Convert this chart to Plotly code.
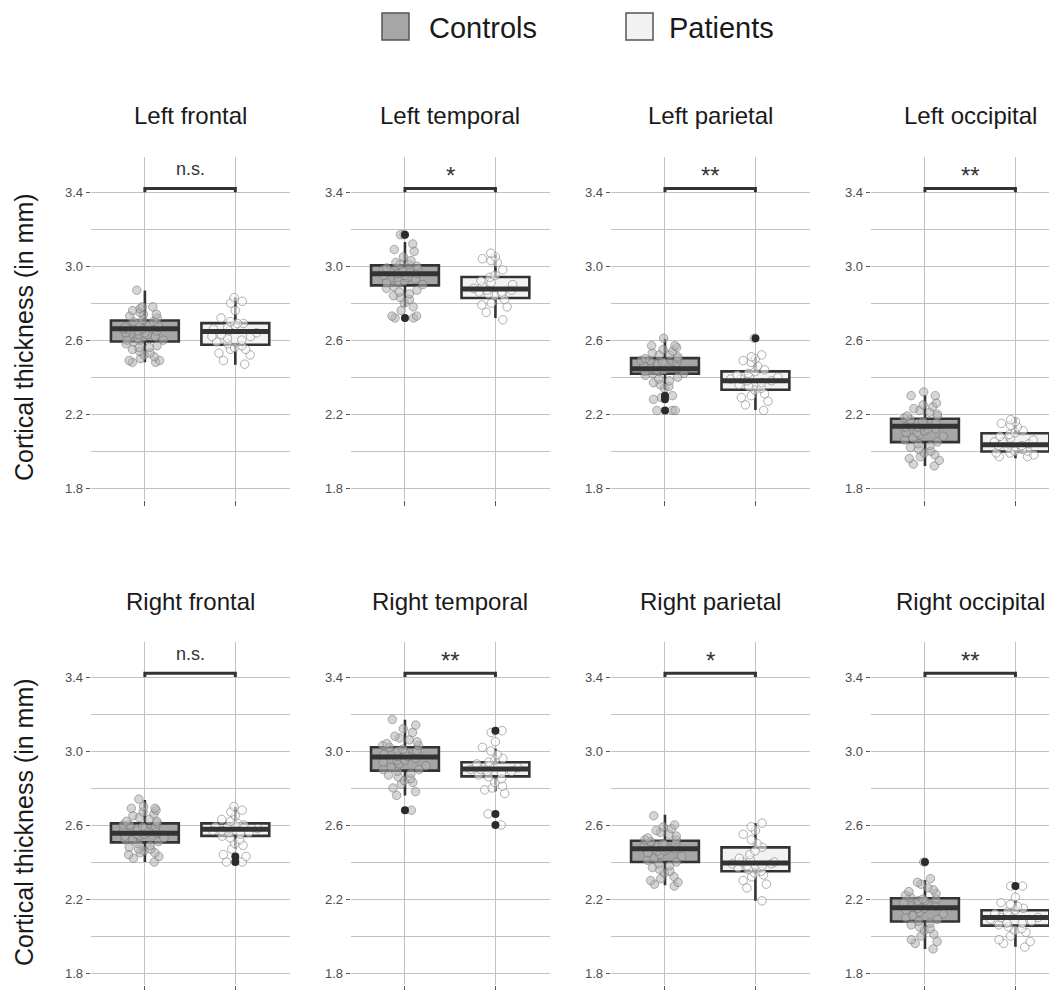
import plotly.graph_objects as go

# Screenshot size and the 8px page margin that surrounds the plot div
SCREEN_W, SCREEN_H = 1057, 990
OFF = 8
W, H = SCREEN_W - OFF, SCREEN_H - OFF

# ---------------- data ----------------
regions = ["Left frontal", "Left temporal", "Left parietal", "Left occipital",
           "Right frontal", "Right temporal", "Right parietal", "Right occipital"]
sig_labels = ["n.s.", "*", "**", "**", "n.s.", "**", "*", "**"]
groups = ["Controls", "Patients"]

controls_q1 = [2.593, 2.896, 2.418, 2.049, 2.506, 2.894, 2.400, 2.078]
controls_median = [2.661, 2.959, 2.445, 2.134, 2.555, 2.968, 2.472, 2.153]
controls_q3 = [2.706, 3.004, 2.503, 2.175, 2.609, 3.020, 2.515, 2.204]
controls_lower = [2.48, 2.78, 2.33, 1.92, 2.40, 2.76, 2.274, 1.93]
controls_upper = [2.869, 3.13, 2.607, 2.304, 2.735, 3.169, 2.656, 2.301]

patients_q1 = [2.575, 2.828, 2.332, 1.998, 2.541, 2.863, 2.350, 2.056]
patients_median = [2.647, 2.876, 2.380, 2.034, 2.577, 2.903, 2.395, 2.100]
patients_q3 = [2.692, 2.941, 2.431, 2.097, 2.609, 2.939, 2.479, 2.139]
patients_lower = [2.467, 2.72, 2.223, 1.962, 2.471, 2.782, 2.19, 1.942]
patients_upper = [2.832, 3.063, 2.512, 2.179, 2.699, 3.014, 2.61, 2.195]

controls_outliers = [[], [3.17, 2.72], [2.30, 2.28, 2.22], [], [], [2.68], [], [2.40]]
patients_outliers = [[], [], [2.61], [], [2.43, 2.40], [3.11, 2.66, 2.60], [], [2.27]]

lf_controls = [2.87, 2.78, 2.78, 2.77, 2.76, 2.75, 2.74, 2.74, 2.73, 2.72, 2.71, 2.70, 2.70,
               2.69, 2.68, 2.68, 2.67, 2.67, 2.66, 2.66, 2.66, 2.65, 2.65, 2.64, 2.64, 2.63,
               2.63, 2.62, 2.62, 2.61, 2.60, 2.60, 2.60, 2.59, 2.58, 2.57, 2.56, 2.56, 2.55,
               2.54, 2.53, 2.52, 2.51, 2.50, 2.49, 2.49, 2.48, 2.48]
lf_patients = [2.83, 2.81, 2.80, 2.76, 2.72, 2.70, 2.69, 2.69, 2.68, 2.67, 2.66, 2.65, 2.64,
               2.63, 2.62, 2.62, 2.61, 2.60, 2.59, 2.58, 2.57, 2.56, 2.55, 2.55, 2.53, 2.52,
               2.49, 2.47]
lt_controls = [3.17, 3.17, 3.12, 3.09, 3.08, 3.05, 3.03, 3.02, 3.01, 3.01, 3.00, 2.99, 2.98,
               2.98, 2.97, 2.97, 2.96, 2.96, 2.95, 2.95, 2.94, 2.94, 2.93, 2.92, 2.92, 2.91,
               2.91, 2.90, 2.89, 2.88, 2.87, 2.86, 2.85, 2.84, 2.83, 2.82, 2.80, 2.78, 2.76,
               2.73, 2.73, 2.72, 2.72]
lt_patients = [3.07, 3.05, 3.04, 3.03, 3.02, 2.98, 2.95, 2.94, 2.92, 2.91, 2.90, 2.89, 2.88,
               2.87, 2.87, 2.86, 2.86, 2.85, 2.85, 2.84, 2.82, 2.80, 2.79, 2.78, 2.75, 2.71]
lp_controls = [2.61, 2.57, 2.57, 2.56, 2.55, 2.54, 2.53, 2.52, 2.52, 2.51, 2.50, 2.50, 2.49,
               2.49, 2.48, 2.48, 2.47, 2.47, 2.46, 2.46, 2.45, 2.45, 2.44, 2.44, 2.43, 2.43,
               2.42, 2.42, 2.41, 2.40, 2.39, 2.38, 2.37, 2.36, 2.35, 2.34, 2.30, 2.29, 2.28,
               2.22, 2.22, 2.22]
lp_patients = [2.61, 2.52, 2.51, 2.50, 2.49, 2.48, 2.46, 2.44, 2.43, 2.42, 2.41, 2.40, 2.40,
               2.39, 2.39, 2.38, 2.38, 2.37, 2.36, 2.35, 2.34, 2.33, 2.31, 2.30, 2.29, 2.27,
               2.25, 2.22]
lo_controls = [2.32, 2.30, 2.30, 2.26, 2.25, 2.24, 2.23, 2.22, 2.21, 2.20, 2.19, 2.19, 2.18,
               2.17, 2.16, 2.15, 2.15, 2.14, 2.13, 2.13, 2.12, 2.12, 2.11, 2.10, 2.10, 2.09,
               2.08, 2.07, 2.06, 2.05, 2.04, 2.03, 2.02, 2.01, 2.00, 1.99, 1.98, 1.97, 1.96,
               1.95, 1.93, 1.92]
lo_patients = [2.17, 2.16, 2.15, 2.14, 2.13, 2.11, 2.10, 2.09, 2.08, 2.07, 2.06, 2.05, 2.05,
               2.04, 2.04, 2.03, 2.03, 2.02, 2.01, 2.00, 2.00, 1.99, 1.99, 1.98, 1.97, 1.97]
rf_controls = [2.74, 2.70, 2.69, 2.69, 2.68, 2.67, 2.66, 2.65, 2.64, 2.63, 2.62, 2.62, 2.61,
               2.60, 2.60, 2.59, 2.59, 2.58, 2.58, 2.57, 2.57, 2.56, 2.56, 2.55, 2.55, 2.54,
               2.54, 2.53, 2.52, 2.52, 2.51, 2.50, 2.49, 2.48, 2.47, 2.47, 2.46, 2.45, 2.45,
               2.44, 2.43, 2.42, 2.40]
rf_patients = [2.70, 2.68, 2.67, 2.65, 2.63, 2.62, 2.61, 2.60, 2.60, 2.59, 2.59, 2.58, 2.58,
               2.57, 2.57, 2.56, 2.56, 2.55, 2.54, 2.53, 2.52, 2.50, 2.49, 2.47, 2.44, 2.43,
               2.40, 2.40]
rt_controls = [3.17, 3.14, 3.12, 3.10, 3.08, 3.07, 3.06, 3.05, 3.04, 3.03, 3.03, 3.02, 3.01,
               3.00, 3.00, 2.99, 2.98, 2.97, 2.97, 2.96, 2.95, 2.95, 2.94, 2.93, 2.92, 2.91,
               2.90, 2.90, 2.89, 2.88, 2.87, 2.86, 2.85, 2.84, 2.83, 2.82, 2.80, 2.78, 2.76,
               2.68]
rt_patients = [3.11, 3.10, 3.05, 3.02, 3.00, 2.98, 2.96, 2.95, 2.94, 2.93, 2.92, 2.91, 2.90,
               2.90, 2.89, 2.89, 2.88, 2.87, 2.86, 2.85, 2.83, 2.81, 2.80, 2.79, 2.77, 2.66,
               2.60]
rp_controls = [2.65, 2.60, 2.59, 2.58, 2.57, 2.56, 2.55, 2.54, 2.53, 2.52, 2.52, 2.51, 2.50,
               2.50, 2.49, 2.49, 2.48, 2.48, 2.47, 2.47, 2.46, 2.46, 2.45, 2.44, 2.43, 2.42,
               2.41, 2.40, 2.39, 2.38, 2.37, 2.36, 2.35, 2.34, 2.32, 2.31, 2.30, 2.29, 2.28,
               2.27]
rp_patients = [2.61, 2.59, 2.57, 2.55, 2.52, 2.50, 2.48, 2.46, 2.44, 2.42, 2.41, 2.40, 2.40,
               2.39, 2.39, 2.38, 2.38, 2.37, 2.36, 2.35, 2.34, 2.33, 2.32, 2.30, 2.28, 2.26,
               2.19]
ro_controls = [2.40, 2.31, 2.29, 2.28, 2.26, 2.25, 2.24, 2.23, 2.22, 2.21, 2.20, 2.20, 2.19,
               2.19, 2.18, 2.17, 2.17, 2.16, 2.15, 2.15, 2.14, 2.13, 2.12, 2.11, 2.10, 2.09,
               2.08, 2.07, 2.06, 2.05, 2.04, 2.03, 2.01, 2.00, 1.98, 1.97, 1.96, 1.93]
ro_patients = [2.27, 2.27, 2.21, 2.18, 2.17, 2.16, 2.15, 2.14, 2.13, 2.12, 2.11, 2.10, 2.10,
               2.09, 2.08, 2.07, 2.07, 2.06, 2.05, 2.04, 2.03, 2.02, 2.00, 1.98, 1.97, 1.96,
               1.94]

controls_points = [lf_controls, lt_controls, lp_controls, lo_controls,
                   rf_controls, rt_controls, rp_controls, ro_controls]
patients_points = [lf_patients, lt_patients, lp_patients, lo_patients,
                   rf_patients, rt_patients, rp_patients, ro_patients]

y_tick_vals = [1.8, 2.2, 2.6, 3.0, 3.4]
y_tick_text = ["1.8", "2.2", "2.6", "3.0", "3.4"]
y_minor_vals = [2.0, 2.4, 2.8, 3.2]
bracket_y = 3.42
bracket_tip_y = 3.40
y_title = "Cortical thickness (in mm)"

# ---------------- style / layout ----------------
FONT = "Liberation Sans, Arial, sans-serif"
GRID = "#c2c2c2"
DARK = "#333333"
CTRL_FILL = "#a6a6a6"
PAT_FILL = "#f2f2f2"
BOX_W = 0.75
Y_RANGE = [1.735, 3.59]
PX_PER_Y = 185.0


def px_x(p):  # screen x pixel -> paper
    return (p - OFF) / W


def px_y(p):  # screen y pixel -> paper
    return 1 - (p - OFF) / H


panel_left_px = [90.6, 350.7, 610.7, 870.7]
panel_w_px = 199.0
px_per_unit = panel_w_px / 2.2
row_top_px = [157.0, 641.85]
panel_h_px = (Y_RANGE[1] - Y_RANGE[0]) * PX_PER_Y
title_y_px = [116, 601]
ytitle_y_px = [337, 822]

fig = go.Figure()
annotations = []

for i in range(8):
    row, col = divmod(i, 4)
    sfx = "" if i == 0 else str(i + 1)
    xr, yr = "x" + sfx, "y" + sfx
    left = panel_left_px[col]
    right = min(left + panel_w_px, SCREEN_W)
    x_end = 0.4 + (right - left) / px_per_unit
    top = row_top_px[row]
    bottom = top + panel_h_px

    fig.update_layout({
        "xaxis" + sfx: dict(domain=[px_x(left), min(px_x(right), 1.0)], range=[0.4, x_end], anchor=yr,
                            tickmode="array", tickvals=[1, 2], showticklabels=False,
                            ticks="outside", ticklen=5, tickcolor="#555555", tickwidth=1,
                            showgrid=True, gridcolor=GRID, gridwidth=1, zeroline=False,
                            showline=False, fixedrange=True),
        "yaxis" + sfx: dict(domain=[max(px_y(bottom), 0.0), px_y(top)], range=Y_RANGE, anchor=xr,
                            tickmode="array", tickvals=y_tick_vals, ticktext=y_tick_text,
                            ticks="outside", ticklen=4, tickcolor="#555555", tickwidth=1,
                            tickfont=dict(size=13, color="#4d4d4d", family=FONT),
                            showgrid=True, gridcolor=GRID, gridwidth=1, zeroline=False,
                            showline=False, fixedrange=True,
                            minor=dict(tickmode="array", tickvals=y_minor_vals, showgrid=True,
                                       gridcolor=GRID, gridwidth=1, ticks="")),
    })

    stats = [
        (1, controls_q1[i], controls_median[i], controls_q3[i], controls_lower[i], controls_upper[i], CTRL_FILL),
        (2, patients_q1[i], patients_median[i], patients_q3[i], patients_lower[i], patients_upper[i], PAT_FILL),
    ]
    for pos, q1, med, q3, lo, hi, fill in stats:
        fig.add_trace(go.Box(x=[pos], q1=[q1], median=[med], q3=[q3], lowerfence=[lo],
                             upperfence=[hi], width=BOX_W, whiskerwidth=0, fillcolor=fill,
                             line=dict(color=DARK, width=2.6), boxpoints=False,
                             xaxis=xr, yaxis=yr, showlegend=False, hoverinfo="skip"))
        fig.add_trace(go.Scatter(x=[pos - BOX_W / 2, pos + BOX_W / 2], y=[med, med], mode="lines",
                                 line=dict(color=DARK, width=5), xaxis=xr, yaxis=yr,
                                 showlegend=False, hoverinfo="skip"))

    # outliers (drawn by the boxplot layer)
    for pos, outs in ((1, controls_outliers[i]), (2, patients_outliers[i])):
        if outs:
            fig.add_trace(go.Scatter(x=[pos] * len(outs), y=outs, mode="markers",
                                     marker=dict(size=8, color="#2b2b2b"),
                                     xaxis=xr, yaxis=yr, showlegend=False, hoverinfo="skip"))

    # jittered raw points
    for pos, vals, fcol, lcol in ((1, controls_points[i], "rgba(178,178,178,0.55)", "rgba(105,105,105,0.5)"),
                                  (2, patients_points[i], "rgba(252,252,252,0.55)", "rgba(125,125,125,0.6)")):
        fig.add_trace(go.Box(x=[pos] * len(vals), y=vals, boxpoints="all", jitter=0.75, pointpos=0,
                             width=BOX_W, fillcolor="rgba(0,0,0,0)",
                             line=dict(color="rgba(0,0,0,0)", width=0),
                             marker=dict(size=8.5, color=fcol, line=dict(color=lcol, width=1)),
                             xaxis=xr, yaxis=yr, showlegend=False, hoverinfo="skip"))

    # significance bracket
    fig.add_trace(go.Scatter(x=[1, 1, 2, 2], y=[bracket_tip_y, bracket_y, bracket_y, bracket_tip_y],
                             mode="lines", line=dict(color=DARK, width=3),
                             xaxis=xr, yaxis=yr, showlegend=False, hoverinfo="skip"))
    is_star = sig_labels[i].startswith("*")
    annotations.append(dict(x=1.5, y=(3.49 if is_star else 3.524), xref=xr, yref=yr,
                            text=sig_labels[i], showarrow=False, yanchor="middle", xanchor="center",
                            font=dict(size=(24 if is_star else 18), color=DARK, family=FONT)))
    # panel title
    cx = px_x(left + panel_w_px / 2)
    annotations.append(dict(x=cx, y=px_y(title_y_px[row]), xref="paper", yref="paper",
                            text=regions[i], showarrow=False, xanchor="center", yanchor="middle",
                            font=dict(size=24, color="#1a1a1a", family=FONT)))

for row in range(2):
    annotations.append(dict(x=px_x(24), y=px_y(ytitle_y_px[row]), xref="paper", yref="paper",
                            text=y_title, textangle=-90, showarrow=False, borderpad=0,
                            xanchor="center", yanchor="middle",
                            font=dict(size=25, color="#1a1a1a", family=FONT)))

# legend (top)
legend_items = [(groups[0], CTRL_FILL, 382, 427), (groups[1], PAT_FILL, 626, 667)]
shapes = []
for name, fill, sx, tx in legend_items:
    shapes.append(dict(type="rect", xref="paper", yref="paper", x0=px_x(sx), x1=px_x(sx + 27),
                       y0=px_y(40), y1=px_y(13), fillcolor=fill,
                       line=dict(color="#555555", width=1.5)))
    annotations.append(dict(x=px_x(tx), y=px_y(28), xref="paper", yref="paper", text=name,
                            showarrow=False, xanchor="left", yanchor="middle",
                            font=dict(size=29, color="#1a1a1a", family=FONT)))

fig.update_layout(width=W, height=H, autosize=False,
                  margin=dict(l=0, r=0, t=0, b=0),
                  paper_bgcolor="white", plot_bgcolor="white",
                  boxmode="overlay", showlegend=False,
                  annotations=annotations, shapes=shapes,
                  font=dict(family=FONT))

fig.write_html("out.html")
